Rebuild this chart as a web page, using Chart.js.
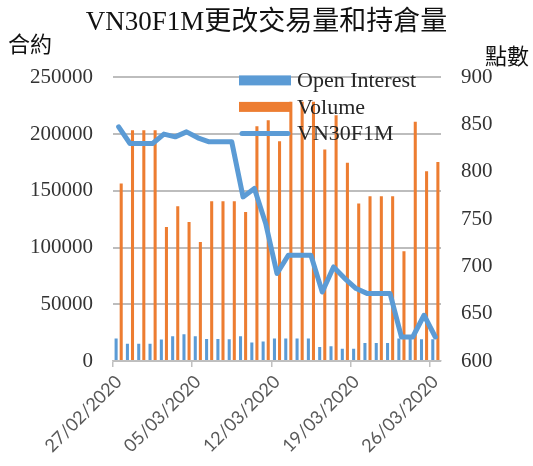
<!DOCTYPE html>
<html>
<head>
<meta charset="utf-8">
<script src="https://cdn.jsdelivr.net/npm/chart.js@4.4.0/dist/chart.umd.min.js"></script>
<style>
  html, body { margin: 0; padding: 0; background: #fff; }
</style>
</head>
<body>
<canvas id="myChart" width="533" height="466"></canvas>
<script>
// one slot per day, 27/02 .. 26/03
const dates = [
    '27/02/2020', '28/02/2020', '29/02/2020', '01/03/2020', '02/03/2020', '03/03/2020', '04/03/2020',
    '05/03/2020', '06/03/2020', '07/03/2020', '08/03/2020', '09/03/2020', '10/03/2020', '11/03/2020',
    '12/03/2020', '13/03/2020', '14/03/2020', '15/03/2020', '16/03/2020', '17/03/2020', '18/03/2020',
    '19/03/2020', '20/03/2020', '21/03/2020', '22/03/2020', '23/03/2020', '24/03/2020', '25/03/2020',
    '26/03/2020'
];
const tickLabels = ['27/02/2020', '05/03/2020', '12/03/2020', '19/03/2020', '26/03/2020'];

const openInterest = [
    19800, 15300, 15300, 15300, 18900, 21800, 23500, 21800, 19400, 19400,
    19100, 21800, 16200, 17100, 19800, 19800, 19800, 19800, 12300, 13000,
    10900, 10900, 15900, 15900, 15900, 19800, 19800, 19100, 19100
];
const volume = [
    156500, 203500, 203500, 203500, 118200, 136500, 122600, 105000, 140900, 140900,
    140900, 131400, 207000, 212300, 193800, 228500, 228500, 228500, 186500, 216700,
    174700, 138800, 145300, 145300, 145300, 96800, 210800, 167300, 175500
];
const vn30f1m = [
    847.7, 830.1, 830.1, 830.1, 840.0, 837.1, 842.4, 836.1, 831.8, 831.8,
    831.8, 773.6, 782.5, 745.4, 692.5, 711.9, 711.9, 711.9, 673.0, 699.5,
    687.2, 676.6, 671.3, 671.3, 671.3, 625.4, 625.4, 648.4, 625.4
];

const blue = '#5B9BD5';
const orange = '#ED7D31';
const serif = '"Liberation Serif", "Noto Sans CJK TC", serif';

// legend + horizontal axis titles, drawn over the plot like the excel one
const extras = {
    id: 'extras',
    afterDatasetsDraw(chart) {
        const ctx = chart.ctx;
        const area = chart.chartArea;
        ctx.save();
        ctx.fillStyle = '#111';
        ctx.font = '22px "Noto Sans CJK TC", sans-serif';
        ctx.textBaseline = 'middle';
        ctx.textAlign = 'left';
        ctx.fillText('合約', 8, 44);
        ctx.textAlign = 'right';
        ctx.fillText('點數', 529, 56);

        const x0 = area.left + 126;
        const y0 = area.top + 3;
        ctx.font = '22px ' + serif;
        ctx.textAlign = 'left';
        chart.data.datasets.forEach((ds, i) => {
            const y = y0 + i * 26.5;
            if (ds.type === 'line') {
                ctx.strokeStyle = ds.borderColor;
                ctx.lineWidth = 5;
                ctx.lineCap = 'round';
                ctx.beginPath();
                ctx.moveTo(x0 + 3, y);
                ctx.lineTo(x0 + 49, y);
                ctx.stroke();
            } else {
                ctx.fillStyle = ds.backgroundColor;
                ctx.fillRect(x0, y - 5, 52, 10);
            }
            ctx.fillStyle = '#262626';
            ctx.fillText(ds.label, x0 + 58, y + 1);
        });
        ctx.restore();
    }
};

const ctx = document.getElementById('myChart').getContext('2d');
const myChart = new Chart(ctx, {
    type: 'bar',
    data: {
        labels: dates,
        datasets: [
            {
                type: 'bar',
                label: 'Open Interest',
                data: openInterest,
                backgroundColor: blue,
                yAxisID: 'y',
                categoryPercentage: 0.9,
                barPercentage: 0.6,
                order: 2
            },
            {
                type: 'bar',
                label: 'Volume',
                data: volume,
                backgroundColor: orange,
                yAxisID: 'y',
                categoryPercentage: 0.9,
                barPercentage: 0.6,
                order: 2
            },
            {
                type: 'line',
                label: 'VN30F1M',
                data: vn30f1m,
                borderColor: blue,
                backgroundColor: blue,
                borderWidth: 5,
                borderJoinStyle: 'round',
                borderCapStyle: 'round',
                pointRadius: 0,
                tension: 0,
                yAxisID: 'y1',
                order: 1
            }
        ]
    },
    plugins: [extras],
    options: {
        responsive: false,
        animation: false,
        layout: { padding: 0 },
        plugins: {
            legend: { display: false },
            tooltip: { enabled: false },
            title: {
                display: true,
                text: 'VN30F1M更改交易量和持倉量',
                color: '#111',
                font: { family: serif, size: 27, weight: 'normal' },
                padding: { top: 7, bottom: 38 }
            }
        },
        scales: {
            x: {
                offset: true,
                grid: {
                    offset: true,
                    drawOnChartArea: false,
                    tickLength: 6,
                    lineWidth: 1.5,
                    color: c => (c.index % 7 === 0 ? '#c0c0c0' : 'rgba(0,0,0,0)')
                },
                border: { display: true, color: '#c0c0c0', width: 1.5 },
                ticks: {
                    autoSkip: false,
                    maxRotation: 45,
                    minRotation: 45,
                    padding: 4,
                    color: '#595959',
                    font: { family: 'Lato, sans-serif', size: 18 },
                    callback: function(value, index) {
                        return tickLabels.includes(dates[index]) ? dates[index] : '';
                    }
                },
                afterFit: scale => { scale.height = 105; }
            },
            y: {
                type: 'linear',
                position: 'left',
                min: 0,
                max: 250000,
                grid: {
                    color: '#bdbdbd',
                    lineWidth: 2,
                    tickLength: 6,
                    tickColor: 'rgba(0,0,0,0)'
                },
                border: { display: false },
                ticks: {
                    stepSize: 50000,
                    padding: 14,
                    color: '#333',
                    font: { family: serif, size: 21 },
                    callback: v => String(v)
                },
                afterFit: scale => { scale.width = 113; }
            },
            y1: {
                type: 'linear',
                position: 'right',
                min: 600,
                max: 900,
                grid: { drawOnChartArea: false, drawTicks: false },
                border: { display: false },
                ticks: {
                    stepSize: 50,
                    padding: 20,
                    color: '#333',
                    font: { family: serif, size: 21 }
                },
                afterFit: scale => { scale.width = 92; }
            }
        }
    }
});
</script>
</body>
</html>
